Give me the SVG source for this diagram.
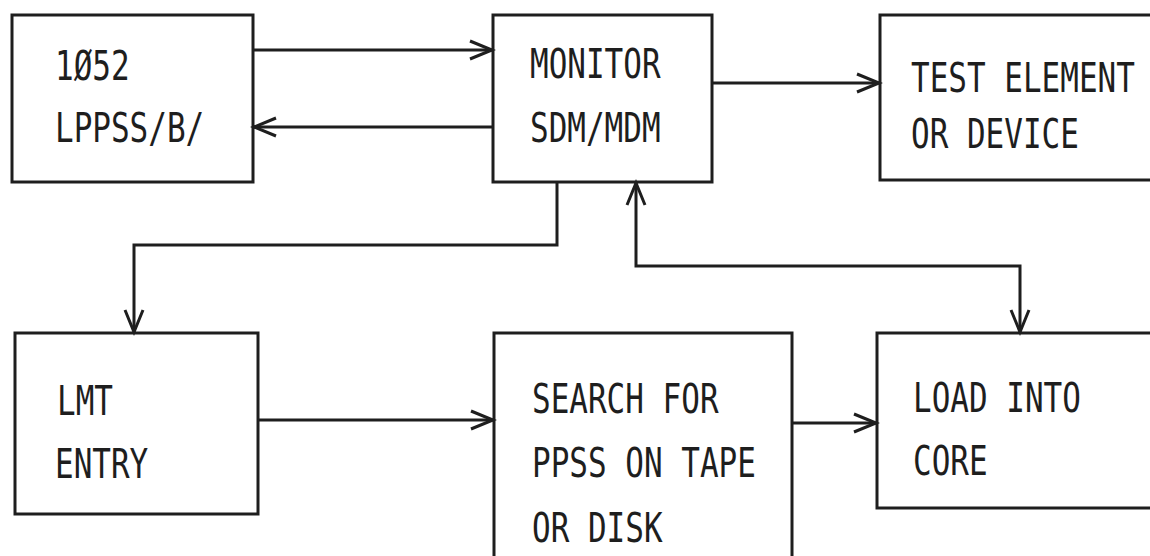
<svg xmlns="http://www.w3.org/2000/svg" width="1150" height="556" viewBox="0 0 1150 556">
<style>
.box{fill:none;stroke:#1e1e1e;stroke-width:3}
.ln{fill:none;stroke:#1e1e1e;stroke-width:3}
.t{font-family:"DejaVu Sans Mono","Liberation Mono",monospace;font-size:31px;fill:#1e1e1e}
</style>
<defs>
<marker id="ah" markerUnits="userSpaceOnUse" markerWidth="32" markerHeight="32" refX="25" refY="12" orient="auto-start-reverse">
<path d="M3,3 L25,12 L3,21" fill="none" stroke="#1e1e1e" stroke-width="3"/>
</marker>
</defs>
<rect width="1150" height="556" fill="#fff"/>
<g id="connectors">
<path class="ln" d="M253,50 H492" marker-end="url(#ah)"/>
<path class="ln" d="M493,127 H254" marker-end="url(#ah)"/>
<path class="ln" d="M712,83 H879" marker-end="url(#ah)"/>
<path class="ln" d="M557,182 V245 H134 V332" marker-end="url(#ah)"/>
<path class="ln" d="M636,183 V266 H1020 V332" marker-start="url(#ah)" marker-end="url(#ah)"/>
<path class="ln" d="M258,420 H493" marker-end="url(#ah)"/>
<path class="ln" d="M792,423 H876" marker-end="url(#ah)"/>
</g>
<g id="node-1052">
<rect class="box" x="12" y="15" width="241" height="167"/>
<text class="t" transform="translate(55,80) scale(1,1.3)">1Ø52</text>
<text class="t" transform="translate(55,142) scale(1,1.3)">LPPSS/B/</text>
</g>
<g id="node-monitor">
<rect class="box" x="493" y="15" width="219" height="167"/>
<text class="t" transform="translate(530,78) scale(1,1.3)">MONITOR</text>
<text class="t" transform="translate(530,142) scale(1,1.3)">SDM/MDM</text>
</g>
<g id="node-test">
<rect class="box" x="880" y="15" width="290" height="165"/>
<text class="t" transform="translate(911,92) scale(1,1.3)">TEST ELEMENT</text>
<text class="t" transform="translate(911,148) scale(1,1.3)">OR DEVICE</text>
</g>
<g id="node-lmt">
<rect class="box" x="15" y="333" width="243" height="181"/>
<text class="t" transform="translate(57,415) scale(1,1.3)">LMT</text>
<text class="t" transform="translate(55,478) scale(1,1.3)">ENTRY</text>
</g>
<g id="node-search">
<rect class="box" x="494" y="333" width="298" height="240"/>
<text class="t" transform="translate(532,413) scale(1,1.3)">SEARCH FOR</text>
<text class="t" transform="translate(532,477) scale(1,1.3)">PPSS ON TAPE</text>
<text class="t" transform="translate(532,542) scale(1,1.3)">OR DISK</text>
</g>
<g id="node-load">
<rect class="box" x="877" y="333" width="290" height="175"/>
<text class="t" transform="translate(913,412) scale(1,1.3)">LOAD INTO</text>
<text class="t" transform="translate(913,475) scale(1,1.3)">CORE</text>
</g>
</svg>
